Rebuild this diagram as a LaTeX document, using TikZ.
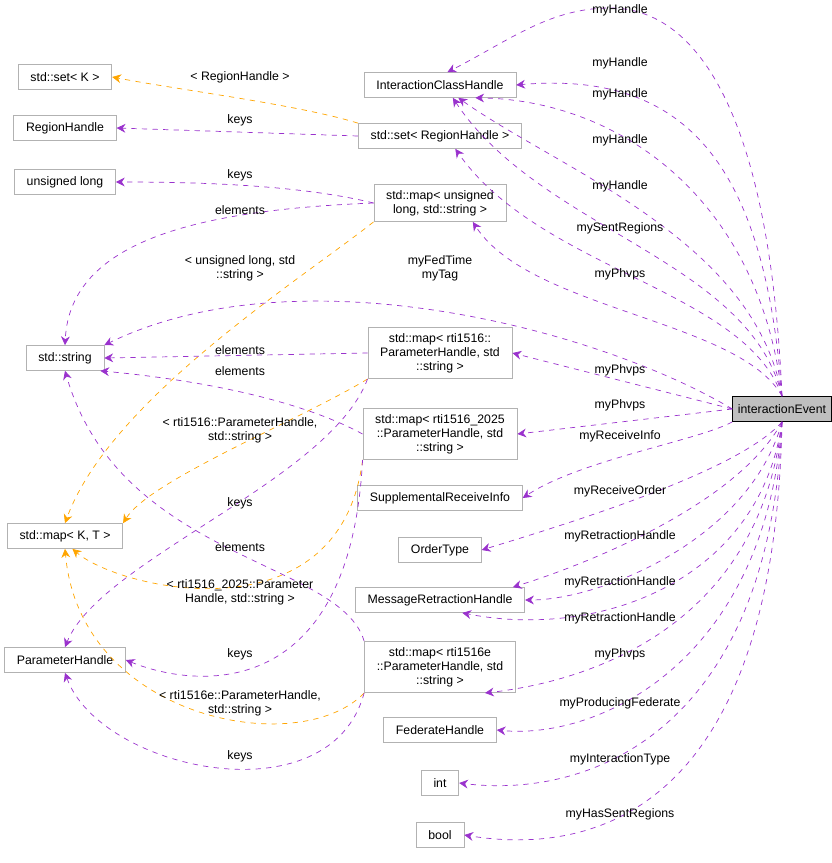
\documentclass[tikz,border=0pt]{standalone}
\usepackage{fontspec}
\setmainfont{Liberation Sans}
\usetikzlibrary{arrows.meta}
\definecolor{edgepurple}{HTML}{9A32CD}
\definecolor{tmplorange}{HTML}{FFA500}
\begin{document}
\begin{tikzpicture}[x=0.02cm,y=-0.02cm,
    box/.style={draw=black!30, fill=white, align=center, font=\fontsize{7}{8}\selectfont, minimum height=0.5cm, inner xsep=7pt},
    edge/.style={-{Stealth[length=5pt,width=5pt]}, dashed, edgepurple},
    tmpl/.style={-{Stealth[length=5pt,width=5pt]}, dashed, tmplorange},
    lbl/.style={align=center, font=\fontsize{7}{8}\selectfont, inner sep=1pt}]
\useasboundingbox (0,0) rectangle (832,863);

% Central node
\node[box, draw=black, fill=black!25, inner xsep=3pt] (ie) at (782,409) {interactionEvent};

% Member types
\node[box] (ich) at (440,85) {InteractionClassHandle};
\node[box] (setk) at (65,77) {std::set< K >};
\node[box] (rh) at (65,128) {RegionHandle};
\node[box] (setrh) at (440,136) {std::set< RegionHandle >};
\node[box] (ul) at (65,182) {unsigned long};
\node[box] (mapul) at (440,203) {std::map< unsigned\\long, std::string >};
\node[box] (str) at (65,358) {std::string};
\node[box] (map1) at (440,353) {std::map< rti1516::\\ParameterHandle, std\\::string >};
\node[box] (map2) at (440,434) {std::map< rti1516\_2025\\::ParameterHandle, std\\::string >};
\node[box] (sri) at (440,498) {SupplementalReceiveInfo};
\node[box] (mapkt) at (65,536) {std::map< K, T >};
\node[box] (ot) at (440,550) {OrderType};
\node[box] (mrh) at (440,600) {MessageRetractionHandle};
\node[box] (ph) at (65,660) {ParameterHandle};
\node[box] (map3) at (440,667) {std::map< rti1516e\\::ParameterHandle, std\\::string >};
\node[box] (fh) at (440,730) {FederateHandle};
\node[box] (int) at (440,783) {int};
\node[box] (bool) at (440,835) {bool};

% Members of interactionEvent
\draw[edge] (ie.north) .. controls (770,120) and (700,8) .. (610,8) .. controls (550,8) and (510,40) .. (ich.60);
\draw[edge] (ie.north) .. controls (765,170) and (690,70) .. (ich.east);
\draw[edge] (ie.north) .. controls (760,200) and (620,100) .. (ich.-20);
\draw[edge] (ie.north) .. controls (755,240) and (560,170) .. (ich.-35);
\draw[edge] (ie.north) .. controls (750,260) and (540,230) .. (ich.-45);
\draw[edge] (ie.north) .. controls (745,290) and (540,270) .. (setrh.-40);
\draw[edge] (ie.north) .. controls (740,320) and (530,310) .. (mapul.-30);
\draw[edge] (ie.west) .. controls (600,330) and (300,250) .. (str.north east);
\draw[edge] (ie.west) -- (map1.east);
\draw[edge] (ie.west) -- (map2.east);
\draw[edge] (ie.south west) .. controls (700,440) and (580,460) .. (sri.east);
\draw[edge] (ie.south) .. controls (740,470) and (580,520) .. (ot.east);
\draw[edge] (ie.south) .. controls (740,500) and (600,560) .. (mrh.10);
\draw[edge] (ie.south) .. controls (750,540) and (600,600) .. (mrh.east);
\draw[edge] (ie.south) .. controls (760,580) and (600,640) .. (mrh.-30);
\draw[edge] (ie.south) .. controls (760,620) and (600,680) .. (map3.-30);
\draw[edge] (ie.south) .. controls (765,660) and (600,740) .. (fh.east);
\draw[edge] (ie.south) .. controls (770,720) and (600,800) .. (int.east);
\draw[edge] (ie.south) .. controls (775,780) and (620,860) .. (bool.east);

% Member labels
\node[lbl] (l1) at (620,10) {myHandle};
\node[lbl] (l2) at (620,63) {myHandle};
\node[lbl] (l3) at (620,94) {myHandle};
\node[lbl] (l4) at (620,140) {myHandle};
\node[lbl] (l5) at (620,186) {myHandle};
\node[lbl] (l6) at (620,228) {mySentRegions};
\node[lbl] (l7) at (620,274) {myPhvps};
\node[lbl] (l8) at (440,268) {myFedTime\\myTag};
\node[lbl] (l9) at (620,370) {myPhvps};
\node[lbl] (l10) at (620,405) {myPhvps};
\node[lbl] (l11) at (620,436) {myReceiveInfo};
\node[lbl] (l12) at (620,491) {myReceiveOrder};
\node[lbl] (l13) at (620,536) {myRetractionHandle};
\node[lbl] (l14) at (620,582) {myRetractionHandle};
\node[lbl] (l15) at (620,618) {myRetractionHandle};
\node[lbl] (l16) at (620,654) {myPhvps};
\node[lbl] (l17) at (620,703) {myProducingFederate};
\node[lbl] (l18) at (620,759) {myInteractionType};
\node[lbl] (l19) at (620,814) {myHasSentRegions};

% Container members
\draw[tmpl] (setrh.north west) .. controls (300,105) and (180,90) .. (setk.east);
\draw[edge] (setrh.west) -- (rh.east);
\draw[edge] (mapul.west) .. controls (300,185) and (200,182) .. (ul.east);
\draw[edge] (mapul.west) .. controls (200,210) and (70,240) .. (str.north);
\draw[tmpl] (mapul.south west) .. controls (300,280) and (110,400) .. (mapkt.north);
\draw[edge] (map1.west) -- (str.east);
\draw[tmpl] (map1.south west) .. controls (300,420) and (150,480) .. (mapkt.north east);
\draw[edge] (map1.south west) .. controls (330,480) and (100,560) .. (ph.north);
\draw[edge] (map2.west) .. controls (300,400) and (200,380) .. (str.-20);
\draw[tmpl] (map2.south west) .. controls (340,640) and (120,590) .. (mapkt.-60);
\draw[edge] (map2.south west) .. controls (350,700) and (200,690) .. (ph.east);
\draw[edge] (map3.north west) .. controls (340,560) and (120,560) .. (str.south);
\draw[tmpl] (map3.south west) .. controls (300,760) and (80,720) .. (mapkt.south);
\draw[edge] (map3.south west) .. controls (330,820) and (100,770) .. (ph.south);

% Container labels
\node[lbl] (c1) at (240,77) {< RegionHandle >};
\node[lbl] (c2) at (240,120) {keys};
\node[lbl] (c3) at (240,175) {keys};
\node[lbl] (c4) at (240,210) {elements};
\node[lbl] (c5) at (240,268) {< unsigned long, std\\::string >};
\node[lbl] (c6) at (240,350) {elements};
\node[lbl] (c7) at (240,371) {elements};
\node[lbl] (c8) at (240,430) {< rti1516::ParameterHandle,\\std::string >};
\node[lbl] (c9) at (240,503) {keys};
\node[lbl] (c10) at (240,547) {elements};
\node[lbl] (c11) at (240,592) {< rti1516\_2025::Parameter\\Handle, std::string >};
\node[lbl] (c12) at (240,654) {keys};
\node[lbl] (c13) at (240,703) {< rti1516e::ParameterHandle,\\std::string >};
\node[lbl] (c14) at (240,756) {keys};
\end{tikzpicture}
\end{document}
